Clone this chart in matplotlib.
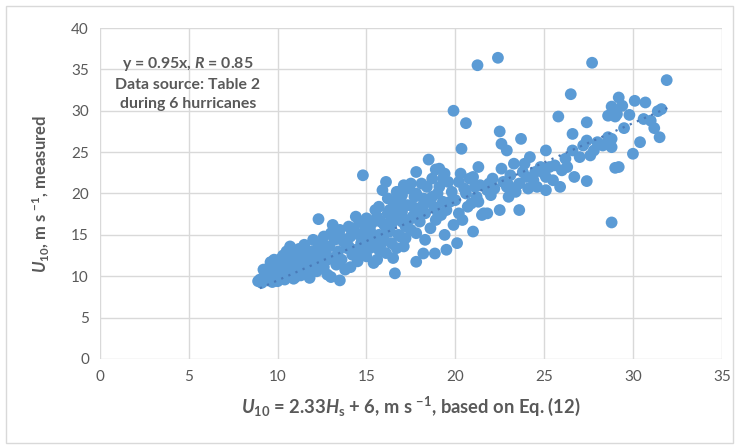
import matplotlib.pyplot as plt
from matplotlib.patches import Rectangle

# U10 from Eq. (12) vs measured U10, m/s
u10_eq = [
    8.9, 9.0, 9.1, 9.2, 9.3, 9.4, 9.5, 9.5, 9.6, 9.7, 9.8, 9.9, 9.9, 10.0, 10.0,
    10.1, 10.2, 10.2, 10.3, 10.3, 10.4, 10.5, 10.5, 10.6, 10.7, 10.7, 10.8, 10.9,
    11.0, 11.0, 11.1, 11.2, 11.3, 11.3, 11.4, 11.5, 11.6, 11.7, 11.8, 11.9, 12.0,
    12.0, 12.1, 12.2, 12.3, 12.3, 12.4, 12.5, 12.6, 12.7, 12.8, 12.9, 13.0, 13.0,
    13.1, 13.1, 13.2, 13.3, 13.4, 13.5, 13.5, 13.6, 13.7, 13.8, 13.9, 14.0, 14.1,
    14.1, 14.2, 14.3, 14.4, 14.5, 14.6, 14.7, 14.8, 14.8, 14.9, 15.0, 15.0, 15.1,
    15.2, 15.3, 15.4, 15.5, 15.6, 15.6, 15.7, 15.7, 15.8, 15.9, 15.9, 16.0, 16.1,
    16.1, 16.2, 16.3, 16.3, 16.4, 16.5, 16.5, 16.6, 16.6, 16.7, 16.8, 16.9, 16.9,
    17.0, 17.1, 17.1, 17.2, 17.3, 17.4, 17.5, 17.6, 17.7, 17.8, 17.8, 17.8, 17.8,
    17.9, 18.0, 18.1, 18.2, 18.2, 18.3, 18.4, 18.5, 18.5, 18.6, 18.7, 18.8, 18.85,
    18.9, 18.9, 19.0, 19.1, 19.1, 19.2, 19.3, 19.4, 19.5, 19.5, 19.6, 19.8, 19.9,
    19.9, 20.0, 20.1, 20.2, 20.35, 20.4, 20.5, 20.6, 20.6, 20.7, 20.9, 21.0, 21.1,
    21.2, 21.25, 21.3, 21.4, 21.5, 21.6, 21.8, 21.8, 21.9, 22.0, 22.2, 22.4, 22.5,
    22.5, 22.6, 22.6, 22.7, 22.9, 22.9, 23.0, 23.1, 23.3, 23.4, 23.6, 23.6, 23.7,
    23.8, 24.0, 24.1, 24.2, 24.4, 24.6, 24.8, 25.0, 25.1, 25.1, 25.1, 25.3, 25.5,
    25.8, 25.9, 26.0, 26.3, 26.5, 26.6, 26.6, 26.7, 27.0, 27.2, 27.4, 27.4, 27.4,
    27.7, 27.8, 28.0, 28.3, 28.6, 28.8, 28.8, 28.8, 28.8, 29.0, 29.1, 29.2, 29.2,
    29.5, 29.8, 30.0, 30.1, 30.4, 30.7, 31.0, 31.2, 31.4, 31.5, 31.9,
    9.2, 9.6, 10.0, 10.4, 10.8, 11.2, 11.6, 12.0, 12.4, 12.8, 10.6, 11.0, 9.8,
    11.4, 12.6, 13.4, 14.0, 14.6, 15.2, 15.8, 16.4, 17.0, 17.6, 18.2, 17.4, 16.0,
    16.8, 28.9, 29.0, 28.5, 20.3, 21.0, 19.4,
    13.6, 14.2, 14.4, 14.9, 15.3, 15.5, 15.7, 16.2, 16.4, 16.7, 17.0, 17.2, 17.5,
    17.9, 18.3, 18.7, 19.0, 19.3, 19.7, 20.2, 20.8, 21.3, 22.1, 23.0, 23.9, 24.5,
    25.6, 26.2, 27.6, 29.4, 30.6, 28.6, 31.6,
]
u10_meas = [
    9.4, 9.6, 9.2, 9.8, 10.3, 9.5, 10.0, 11.0, 11.7, 9.3, 10.5, 9.8, 11.3, 9.4, 10.8,
    12.0, 9.9, 11.2, 10.4, 12.5, 9.6, 11.6, 13.0, 10.2, 13.6, 12.2, 11.0, 9.7,
    12.8, 10.5, 11.8, 13.3, 10.1, 12.4, 11.2, 13.8, 10.8, 12.0, 9.8, 13.0, 11.4,
    14.4, 12.6, 10.6, 16.9, 13.5, 11.9, 14.0, 11.1, 12.8, 10.2, 13.6, 9.9, 15.2,
    16.2, 12.2, 14.4, 11.4, 13.0, 9.5, 15.6, 12.0, 14.2, 10.8, 13.4, 16.0, 11.1,
    14.8, 12.6, 15.8, 13.2, 11.8, 16.6, 14.0, 22.2, 12.8, 15.4, 12.4, 17.0, 14.6,
    13.4, 16.4, 11.6, 18.0, 12.0, 17.2, 18.4, 15.0, 13.8, 20.4, 14.4, 16.2, 21.4,
    12.8, 17.6, 18.0, 15.4, 14.0, 12.2, 19.0, 10.35, 16.8, 20.2, 15.0, 19.2, 14.8,
    17.8, 21.0, 13.6, 16.0, 18.6, 20.6, 15.6, 17.2, 19.6, 22.6, 20.0, 15.2, 11.75,
    18.2, 16.6, 21.2, 12.75, 19.4, 17.6, 20.8, 24.1, 19.2, 15.8, 21.8, 18.4, 12.75,
    22.9, 16.8, 20.0, 23.0, 20.8, 17.4, 19.0, 15.0, 13.2, 18.0, 21.4, 20.2, 30.0,
    16.2, 19.2, 14.0, 17.6, 25.4, 16.8, 20.6, 28.5, 20.0, 18.4, 18.8, 15.4, 20.8,
    19.6, 35.5, 23.2, 21.0, 17.4, 17.6, 17.6, 20.4, 21.2, 19.8, 20.6, 36.4, 27.5,
    18.0, 26.0, 23.0, 21.4, 25.2, 20.8, 19.6, 22.2, 23.6, 20.2, 21.2, 18.0, 26.6,
    22.6, 22.0, 20.6, 24.4, 21.6, 20.8, 23.2, 22.4, 25.2, 22.0, 20.4, 23.2, 21.6,
    29.3, 20.8, 22.8, 23.2, 32.0, 27.2, 25.2, 22.0, 24.4, 25.8, 28.6, 26.4, 21.5,
    35.8, 25.2, 26.2, 25.8, 26.8, 30.5, 26.6, 25.6, 16.5, 23.1, 29.6, 31.6, 23.2,
    27.9, 29.5, 24.8, 31.2, 26.2, 31.0, 28.8, 27.9, 29.95, 26.8, 33.7,
    10.8, 10.3, 11.6, 10.8, 12.6, 11.6, 12.8, 13.0, 13.0, 12.0, 11.4, 9.9, 12.0,
    10.4, 14.8, 15.0, 13.6, 15.0, 15.6, 16.6, 17.0, 16.6, 18.4, 18.6, 16.8, 15.0,
    18.0, 30.0, 29.3, 26.0, 22.4, 22.0, 22.4,
    14.6, 15.4, 17.2, 16.2, 14.2, 16.8, 13.2, 19.4, 16.2, 13.4, 19.8, 14.6, 21.2,
    17.0, 14.4, 19.6, 17.8, 21.8, 19.0, 21.4, 21.8, 19.0, 21.8, 21.0, 23.6, 22.6,
    23.4, 24.2, 24.6, 30.6, 29.0, 29.4, 30.2,
]
trend_x = [9.0, 32.0]
slope = 0.95

x_ticks = [0, 5, 10, 15, 20, 25, 30, 35]
y_ticks = [0, 5, 10, 15, 20, 25, 30, 35, 40]

plt.rcParams['font.family'] = ['Lato', 'DejaVu Sans']
plt.rcParams['mathtext.fontset'] = 'custom'
plt.rcParams['mathtext.rm'] = 'Lato:bold'
plt.rcParams['mathtext.it'] = 'Lato:italic:bold'
plt.rcParams['mathtext.bf'] = 'Lato:bold'

grey = '#595959'
dot_blue = '#5b9bd5'

fig = plt.figure(figsize=(7.38, 4.48), dpi=100)
fig.patches.append(Rectangle((0.008, 0.012), 0.985, 0.975, transform=fig.transFigure,
                             fill=False, edgecolor='#d9d9d9', linewidth=1))
ax = fig.add_axes([0.1355, 0.1987, 0.8425, 0.7388])

ax.scatter(u10_eq, u10_meas, s=72, color=dot_blue, edgecolors='none', zorder=3)
ax.plot(trend_x, [slope * v for v in trend_x], linestyle=(0, (1, 2.5)),
        color='#4a7ab8', linewidth=1.6, zorder=4)

ax.set_xlim(0, 35)
ax.set_ylim(0, 40)
ax.set_xticks(x_ticks)
ax.set_yticks(y_ticks)
ax.grid(True, color='#d9d9d9', linewidth=1)
ax.set_axisbelow(True)
for s in ax.spines.values():
    s.set_visible(False)
ax.tick_params(length=0, labelsize=11, labelcolor=grey, pad=8)

ax.set_xlabel(r"$U_{10}$ = 2.33$H_{\mathrm{s}}$ + 6, m s $^{-1}$, based on Eq. (12)",
              fontsize=13.2, fontweight='bold', color=grey, labelpad=8)
ax.set_ylabel(r"$U_{10}$, m s $^{-1}$, measured",
              fontsize=12, fontweight='bold', color=grey, labelpad=14)

ax.text(4.95, 33.3, r"y = 0.95x, $R$ = 0.85" + "\nData source: Table 2\nduring 6 hurricanes",
        ha='center', va='center', fontsize=11.4, fontweight='bold', color=grey,
        linespacing=1.45)

fig.savefig("out.png", dpi=100)
